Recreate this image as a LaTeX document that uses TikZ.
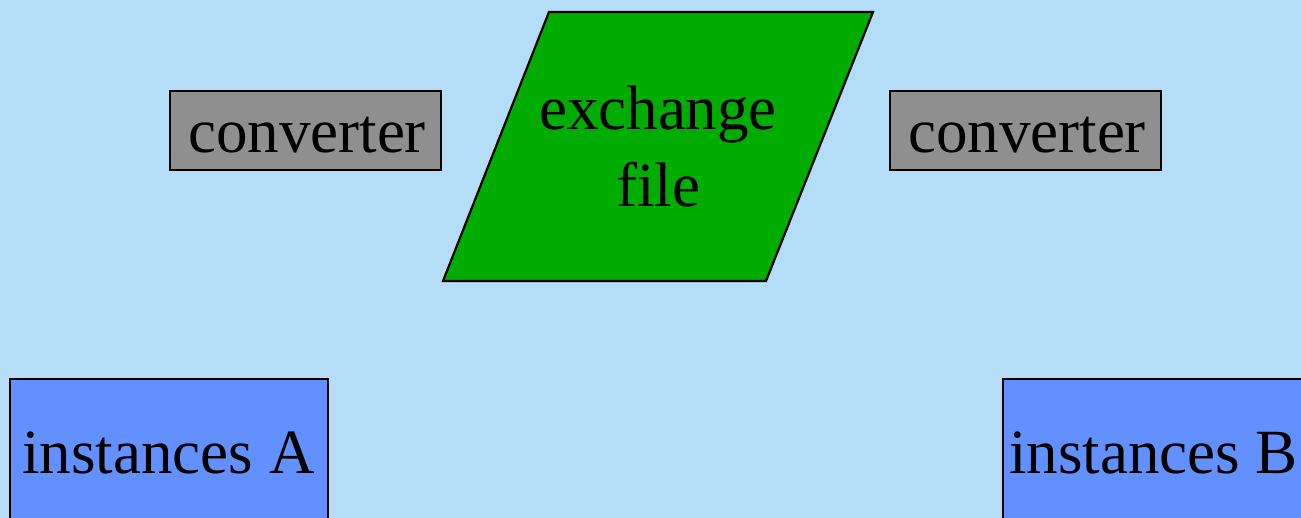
\documentclass[tikz,border=0pt]{standalone}
\usepackage{fontspec}
\setmainfont{Liberation Serif}
\definecolor{bgblue}{RGB}{181,221,248}
\definecolor{convgray}{RGB}{143,143,143}
\definecolor{filegreen}{RGB}{0,172,0}
\definecolor{instblue}{RGB}{98,145,255}
\tikzset{
  boxline/.style={draw=black, line width=2.2pt},
  convbox/.style={boxline, fill=convgray, rectangle, inner sep=0pt, minimum width=271pt, minimum height=79pt},
  instbox/.style={boxline, fill=instblue, rectangle, inner sep=0pt, minimum width=318pt, minimum height=180pt},
  lbl/.style={anchor=base, inner sep=0pt, font=\fontsize{63}{77}\selectfont}
}
\begin{document}
\begin{tikzpicture}[x=1pt,y=-1pt]
\useasboundingbox (0,0) rectangle (1301,518);
\clip (0,0) rectangle (1301,518);
\fill[bgblue] (0,0) rectangle (1301,518);
% converters
\node[convbox] (conv1) at (305.5,130.5) {};
\node[lbl] (conv1t) at (307,153) {converter};
\node[convbox] (conv2) at (1025.5,130.5) {};
\node[lbl] (conv2t) at (1027,153) {converter};
% exchange file
\coordinate (p1) at (549,12);
\coordinate (p2) at (873,12);
\coordinate (p3) at (766,281);
\coordinate (p4) at (443,281);
\draw[boxline, fill=filegreen, line join=miter] (p1) -- (p2) -- (p3) -- (p4) -- cycle;
\node[lbl] (ex1) at (658,130) {exchange};
\node[lbl] (ex2) at (658,207) {file};
% instances
\node[instbox] (instA) at (169,469) {};
\node[lbl] (instAt) at (168.5,473) {instances A};
\node[instbox] (instB) at (1162,469) {};
\node[lbl, anchor=base east] (instBt) at (1298,473) {instances B};
\end{tikzpicture}
\end{document}
